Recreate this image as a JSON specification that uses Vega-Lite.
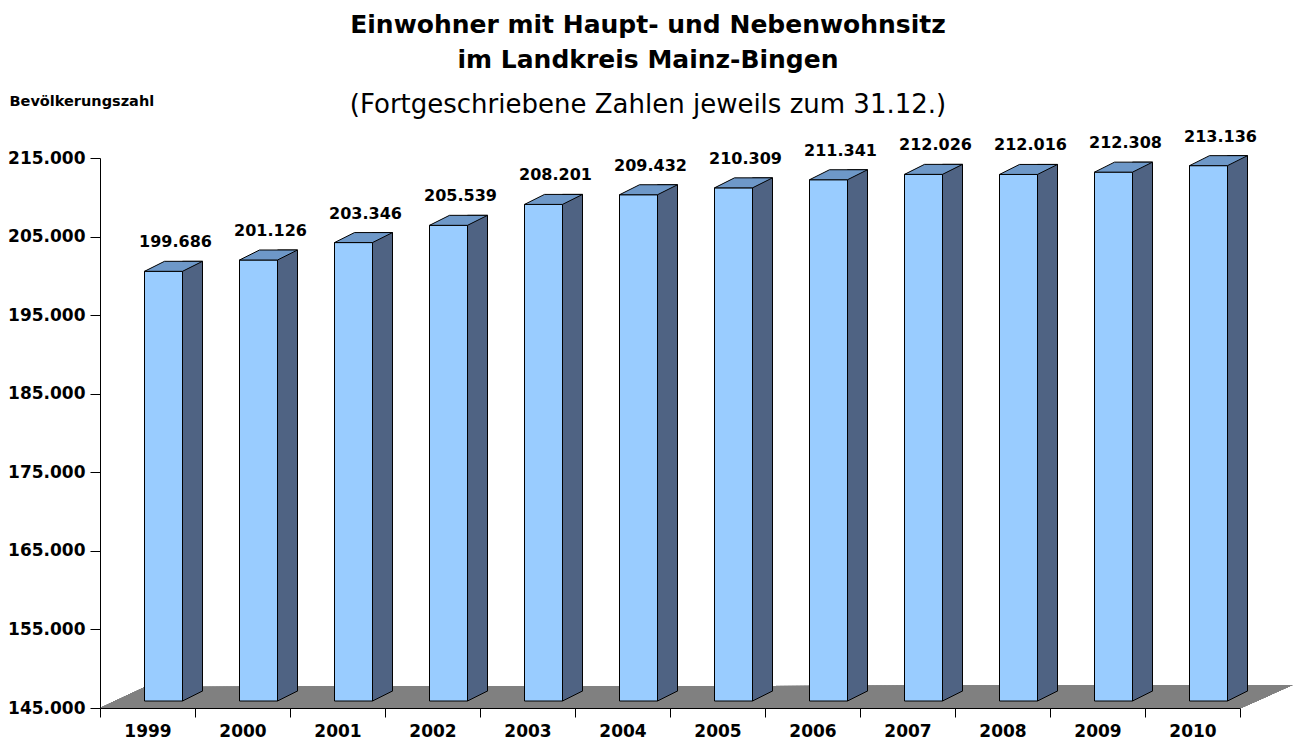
{
  "$schema": "https://vega.github.io/schema/vega-lite/v6.json",
  "width": 1140,
  "height": 550,
  "autosize": "none",
  "padding": {"left": 100, "top": 158, "right": 60, "bottom": 39},
  "background": "white",
  "title": {
    "text": ["Einwohner mit Haupt- und Nebenwohnsitz", "im Landkreis Mainz-Bingen"],
    "subtitle": "(Fortgeschriebene Zahlen jeweils zum 31.12.)",
    "font": "DejaVu Sans",
    "fontSize": 25,
    "fontWeight": "bold",
    "lineHeight": 35,
    "color": "black",
    "subtitleFont": "DejaVu Sans",
    "subtitleFontSize": 26,
    "subtitleFontWeight": "normal",
    "subtitleColor": "black",
    "subtitlePadding": 19,
    "anchor": "middle",
    "frame": "group",
    "dx": -22,
    "offset": -25
  },
  "data": {
    "values": [
      {"year": "1999", "value": 199686},
      {"year": "2000", "value": 201126},
      {"year": "2001", "value": 203346},
      {"year": "2002", "value": 205539},
      {"year": "2003", "value": 208201},
      {"year": "2004", "value": 209432},
      {"year": "2005", "value": 210309},
      {"year": "2006", "value": 211341},
      {"year": "2007", "value": 212026},
      {"year": "2008", "value": 212016},
      {"year": "2009", "value": 212308},
      {"year": "2010", "value": 213136}
    ]
  },
  "encoding": {
    "x": {
      "field": "year",
      "type": "ordinal",
      "sort": null,
      "scale": {"type": "band", "paddingInner": 0, "paddingOuter": 0},
      "axis": {
        "title": null,
        "labelAngle": 0,
        "labelFont": "DejaVu Sans",
        "labelFontSize": 17,
        "labelFontWeight": "bold",
        "labelColor": "black",
        "labelPadding": 6,
        "tickBand": "extent",
        "tickSize": 9,
        "tickColor": "black",
        "domainColor": "black",
        "zindex": 1
      }
    },
    "y": {
      "field": "value",
      "type": "quantitative",
      "scale": {"domain": [145000, 215000], "nice": false, "zero": false},
      "axis": {
        "title": "Bevölkerungszahl",
        "titleFont": "DejaVu Sans",
        "titleFontSize": 14.5,
        "titleFontWeight": "bold",
        "titleColor": "black",
        "titleAngle": 0,
        "titleAlign": "left",
        "titleBaseline": "alphabetic",
        "titleX": -91,
        "titleY": -53,
        "values": [145000, 155000, 165000, 175000, 185000, 195000, 205000, 215000],
        "format": ",.0f",
        "labelFont": "DejaVu Sans",
        "labelFontSize": 17,
        "labelFontWeight": "bold",
        "labelColor": "black",
        "labelPadding": 5,
        "tickSize": 10,
        "tickColor": "black",
        "domainColor": "black",
        "grid": false,
        "zindex": 1
      }
    }
  },
  "layer": [
    {
      "mark": {
        "type": "point",
        "shape": "M-47.5,0 L1093.5,0 L1145,-23 L-2.5,-21 Z",
        "size": 4,
        "filled": true,
        "fill": "#808080",
        "strokeWidth": 0,
        "opacity": 1,
        "clip": false
      },
      "encoding": {
        "x": {"datum": "1999", "type": "ordinal"},
        "y": {"datum": 145000, "type": "quantitative"}
      }
    },
    {
      "mark": {
        "type": "bar",
        "width": 20,
        "xOffset": 45,
        "x2Offset": 45,
        "yOffset": -17,
        "y2Offset": -17,
        "fill": "#4F6383",
        "stroke": "black",
        "strokeWidth": 1,
        "clip": false
      },
      "encoding": {
        "y2": {"datum": 145000}
      }
    },
    {
      "mark": {
        "type": "point",
        "shape": "M20,-11 L20,-10 L0,0 L0,-11",
        "size": 4,
        "filled": true,
        "fill": "#4F6383",
        "stroke": "black",
        "strokeWidth": 1,
        "opacity": 1,
        "xOffset": 35,
        "yOffset": -7,
        "clip": false
      },
      "encoding": {
        "y": {"datum": 145000, "type": "quantitative"}
      }
    },
    {
      "mark": {
        "type": "bar",
        "width": 38,
        "xOffset": 16,
        "x2Offset": 16,
        "yOffset": -7,
        "y2Offset": -7,
        "fill": "#99CCFF",
        "stroke": "black",
        "strokeWidth": 1,
        "clip": false
      },
      "encoding": {
        "y2": {"datum": 145000}
      }
    },
    {
      "mark": {
        "type": "point",
        "shape": "M0,0 L38,0 L58,-10 L20,-10 Z",
        "size": 4,
        "filled": true,
        "fill": "#6E98C8",
        "stroke": "black",
        "strokeWidth": 1,
        "opacity": 1,
        "xOffset": -3,
        "yOffset": -7,
        "clip": false
      }
    },
    {
      "mark": {
        "type": "text",
        "font": "DejaVu Sans",
        "fontSize": 16,
        "fontWeight": "bold",
        "color": "black",
        "baseline": "alphabetic",
        "align": "center",
        "dx": 28,
        "dy": -31
      },
      "encoding": {
        "text": {"field": "value", "type": "quantitative", "format": ",.0f"}
      }
    }
  ],
  "config": {
    "locale": {
      "number": {"decimal": ",", "thousands": ".", "grouping": [3], "currency": ["", " €"]}
    },
    "view": {"stroke": null}
  }
}
